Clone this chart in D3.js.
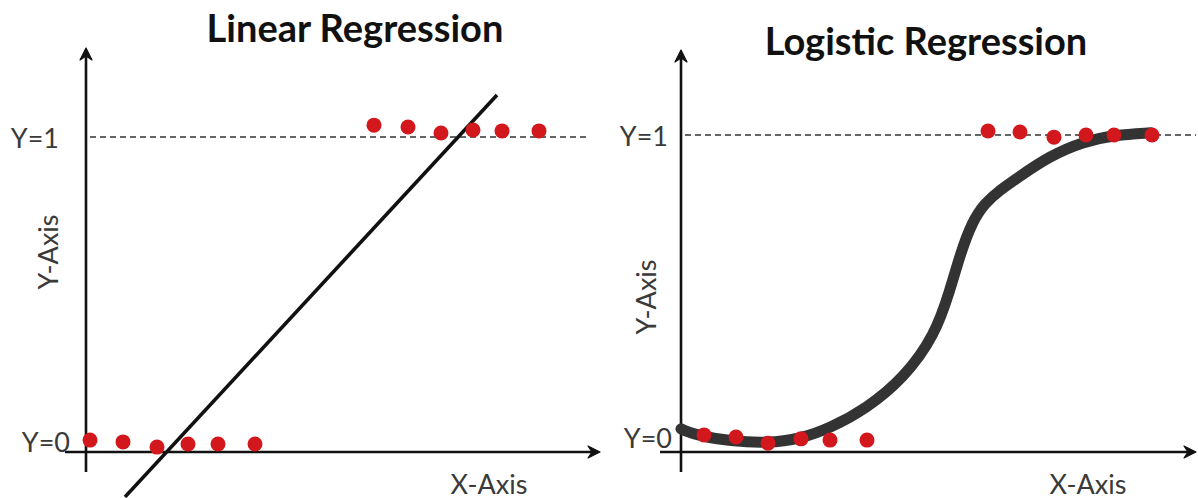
<!DOCTYPE html>
<html><head><meta charset="utf-8">
<script src="https://cdn.jsdelivr.net/npm/d3@7"></script>
<style>
html,body{margin:0;padding:0;background:#fff;}
svg{display:block;font-family:Lato,"Open Sans",sans-serif;}
</style></head>
<body>
<svg id="chart" width="1198" height="498"></svg>
<script>
// ---- data ----
const titles = ["Linear Regression", "Logistic Regression"];
const yTickLabels = ["Y=0", "Y=1"];
const yTickValues = [0, 1];
const axisTitles = ["X-Axis", "Y-Axis"];

const linLowX  = [0.08, 0.74, 1.42, 2.04, 2.64, 3.38];
const linLowY  = [0.003, -0.003, -0.02, -0.01, -0.01, -0.01];
const linHighX = [5.76, 6.44, 7.10, 7.74, 8.32, 9.06];
const linHighY = [1.039, 1.033, 1.013, 1.023, 1.020, 1.020];
const linFitX  = [0.78, 8.22];
const linFitY  = [-0.184, 1.138];

const logLowX  = [0.46, 1.10, 1.74, 2.40, 2.98, 3.72];
const logLowY  = [0.020, 0.013, -0.007, 0.007, 0.003, 0.003];
const logHighX = [6.14, 6.78, 7.46, 8.10, 8.66, 9.42];
const logHighY = [1.013, 1.010, 0.993, 1.000, 1.000, 1.000];
const logFitX  = [0.0, 0.04, 0.38, 0.98, 1.74, 2.38, 2.98, 3.70, 4.46, 5.08, 5.38, 5.58, 5.82, 6.08, 6.38, 6.72, 7.38, 8.04, 8.68, 9.38, 9.4];
const logFitY  = [0.040, 0.036, 0.016, 0.0, -0.007, 0.007, 0.042, 0.105, 0.206, 0.346, 0.493, 0.608, 0.716, 0.778, 0.820, 0.859, 0.932, 0.978, 1.000, 1.007, 1.007];

// ---- drawing ----
const svg = d3.select("#chart");
const dotColor = "#d3181d";

function arrowHead(g, x, y, dir) {
  const p = dir === "up"
    ? `M${x},${y} L${x-6},${y+12} L${x},${y+8} L${x+6},${y+12} Z`
    : `M${x},${y} L${x-12},${y-6} L${x-8},${y} L${x-12},${y+6} Z`;
  g.append("path").attr("d", p).attr("fill", "#111").attr("stroke", "#111")
    .attr("stroke-width", 1.2).attr("stroke-linejoin", "round");
}

function panel(cfg) {
  const g = svg.append("g");
  const x = d3.scaleLinear().domain([0, 10]).range(cfg.xRange);
  const y = d3.scaleLinear().domain([0, 1]).range(cfg.yRange);
  const ax = x(0), ay = cfg.axisY;

  g.append("text").attr("x", cfg.titleX).attr("y", cfg.titleY)
    .attr("text-anchor", "middle").attr("font-weight", 700).attr("font-size", 38)
    .attr("fill", "#111").text(cfg.title);

  g.append("line").attr("x1", ax + 4).attr("x2", cfg.dashEnd)
    .attr("y1", y(1)).attr("y2", y(1))
    .attr("stroke", "#333").attr("stroke-width", 1.4).attr("stroke-dasharray", "6,4");

  g.append("line").attr("x1", ax).attr("x2", ax).attr("y1", 472).attr("y2", cfg.yTop + 6)
    .attr("stroke", "#111").attr("stroke-width", 2.6);
  arrowHead(g, ax, cfg.yTop, "up");
  g.append("line").attr("x1", ax - 21).attr("x2", cfg.xTip - 6).attr("y1", ay).attr("y2", ay)
    .attr("stroke", "#111").attr("stroke-width", 2.6);
  arrowHead(g, cfg.xTip, ay, "right");

  yTickValues.forEach((v, i) => {
    g.append("text").attr("x", ax - cfg.tickPad[i]).attr("y", y(v) + cfg.tickDy[i])
      .attr("text-anchor", "end").attr("dominant-baseline", "central")
      .attr("font-size", 27).attr("fill", "#3a3a3a").text(yTickLabels[i]);
  });

  g.append("text").attr("x", cfg.xTitleX).attr("y", 483)
    .attr("text-anchor", "middle").attr("dominant-baseline", "central")
    .attr("font-size", 27).attr("fill", "#3a3a3a").text(axisTitles[0]);
  g.append("text").attr("transform", `translate(${cfg.yTitleX},${cfg.yTitleY}) rotate(-90)`)
    .attr("text-anchor", "middle").attr("dominant-baseline", "central")
    .attr("font-size", 27).attr("fill", "#3a3a3a").text(axisTitles[1]);

  const line = d3.line().x(d => x(d[0])).y(d => y(d[1]));
  if (cfg.curve) line.curve(d3.curveBasis);
  g.append("path").datum(d3.zip(cfg.fitX, cfg.fitY)).attr("d", line)
    .attr("fill", "none").attr("stroke", cfg.fitColor).attr("stroke-width", cfg.fitWidth)
    .attr("stroke-linecap", cfg.curve ? "round" : "butt");

  const pts = d3.zip(cfg.lowX, cfg.lowY).concat(d3.zip(cfg.highX, cfg.highY));
  g.selectAll("circle.dot").data(pts).join("circle").attr("class", "dot")
    .attr("cx", d => x(d[0])).attr("cy", d => y(d[1])).attr("r", 7.5)
    .attr("fill", dotColor);
}

panel({
  title: titles[0], titleX: 355, titleY: 42,
  xRange: [86, 586], yRange: [441, 137], axisY: 452, yTop: 48, xTip: 600, dashEnd: 590,
  tickPad: [16, 27], tickDy: [0, 0],
  xTitleX: 489, yTitleX: 47, yTitleY: 252,
  fitX: linFitX, fitY: linFitY, fitColor: "#111", fitWidth: 3.6, curve: false,
  lowX: linLowX, lowY: linLowY, highX: linHighX, highY: linHighY
});

panel({
  title: titles[1], titleX: 926, titleY: 55,
  xRange: [681, 1181], yRange: [441, 135], axisY: 452, yTop: 50, xTip: 1196, dashEnd: 1196,
  tickPad: [9, 13], tickDy: [-4, 0],
  xTitleX: 1088, yTitleX: 645, yTitleY: 297,
  fitX: logFitX, fitY: logFitY, fitColor: "#333", fitWidth: 11, curve: true,
  lowX: logLowX, lowY: logLowY, highX: logHighX, highY: logHighY
});
</script>
</body></html>
